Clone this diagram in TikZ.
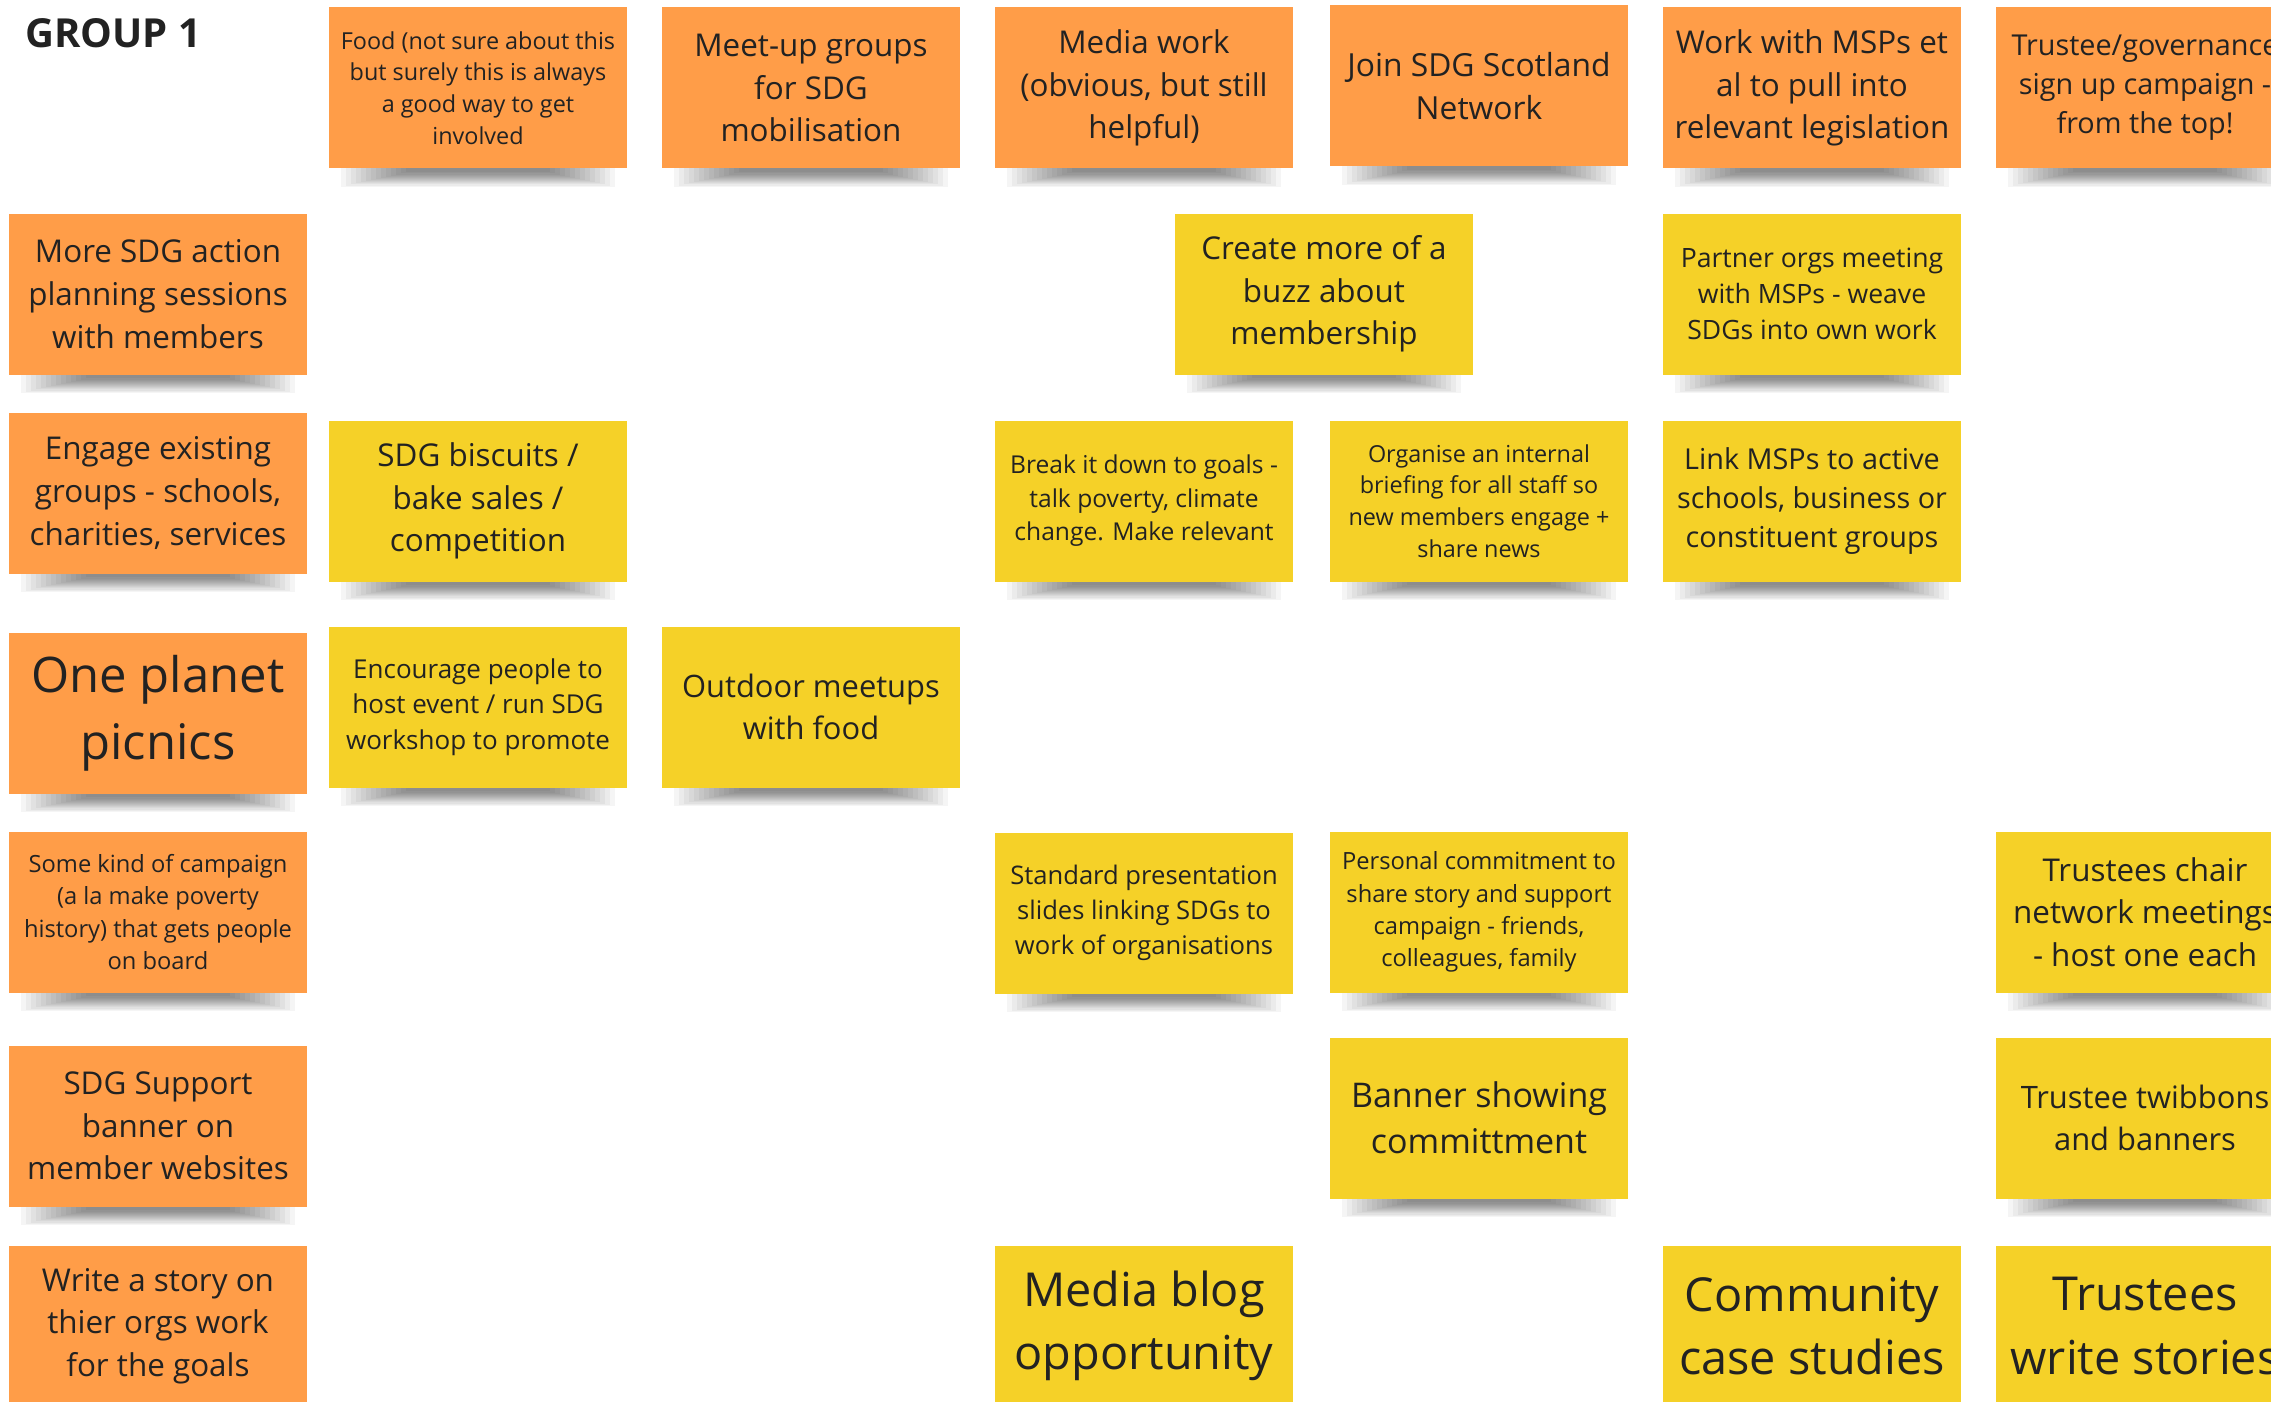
\documentclass[tikz,border=0pt]{standalone}
\usepackage{fontspec}
\setmainfont{Open Sans}
\usetikzlibrary{backgrounds}
\definecolor{noteorange}{HTML}{FF9D48}
\definecolor{noteyellow}{HTML}{F5D128}
\definecolor{ink}{HTML}{222222}
\begin{document}
\begin{tikzpicture}[x=1pt, y=-1pt,
        note/.style={rectangle, minimum width=298pt, minimum height=161pt, inner sep=0pt, align=center, text=ink},
        orangenote/.style={note, fill=noteorange},
        yellownote/.style={note, fill=noteyellow},
        fs/.style={font=\fontsize{#1}{#1}\linespread{1.36}\selectfont}]
        \useasboundingbox (0,0) rectangle (2271,1402);
        \clip (0,0) rectangle (2271,1402);
        \node [anchor=base west, inner sep=0pt, text=ink, font=\bfseries\fontsize{40}{40}\selectfont] (title) at (25,48) {GROUP 1};
        \node [orangenote, fs=23.4] (food) at (478,88) {Food (not sure about this\\but surely this is always\\a good way to get\\involved};
        \node [orangenote, fs=31.4] (meetup) at (811,88) {Meet-up groups\\for SDG\\mobilisation};
        \node [orangenote, fs=31.4] (mediawork) at (1144,88) {Media work\\(obvious, but still\\helpful)};
        \node [orangenote, fs=31.8] (join) at (1479,86) {Join SDG Scotland\\Network};
        \node [orangenote, fs=31.4] (msps) at (1812,88) {Work with MSPs et\\al to pull into\\relevant legislation};
        \node [orangenote, fs=28.8] (trusteegov) at (2145,88) {Trustee/governance\\sign up campaign -\\from the top!};
        \node [orangenote, fs=31.4] (sessions) at (158,294) {More SDG action\\planning sessions\\with members};
        \node [yellownote, fs=31.4] (buzz) at (1324,294) {Create more of a\\buzz about\\membership};
        \node [yellownote, fs=26.6] (partner) at (1812,294) {Partner orgs meeting\\with MSPs - weave\\SDGs into own work};
        \node [orangenote, fs=31.4] (engage) at (158,493) {Engage existing\\groups - schools,\\charities, services};
        \node [yellownote, fs=31.4] (biscuits) at (478,501) {SDG biscuits /\\bake sales /\\competition};
        \node [yellownote, fs=24.6] (breakdown) at (1144,501) {Break it down to goals -\\talk poverty, climate\\change. Make relevant};
        \node [yellownote, fs=23.4] (briefing) at (1479,501) {Organise an internal\\briefing for all staff so\\new members engage +\\share news};
        \node [yellownote, fs=28.8] (linkmsps) at (1812,501) {Link MSPs to active\\schools, business or\\constituent groups};
        \node [orangenote, fs=49] (picnics) at (158,713) {One planet\\picnics};
        \node [yellownote, fs=26] (encourage) at (478,707) {Encourage people to\\host event / run SDG\\workshop to promote};
        \node [yellownote, fs=30.9] (outdoor) at (811,707) {Outdoor meetups\\with food};
        \node [orangenote, fs=23.7] (campaign) at (158,912) {Some kind of campaign\\(a la make poverty\\history) that gets people\\on board};
        \node [yellownote, fs=25.6] (slides) at (1144,913) {Standard presentation\\slides linking SDGs to\\work of organisations};
        \node [yellownote, fs=23.7] (commitment) at (1479,912) {Personal commitment to\\share story and support\\campaign - friends,\\colleagues, family};
        \node [yellownote, fs=31.4] (chair) at (2145,912) {Trustees chair\\network meetings\\- host one each};
        \node [orangenote, fs=31.4] (banner) at (158,1126) {SDG Support\\banner on\\member websites};
        \node [yellownote, fs=34] (showing) at (1479,1118) {Banner showing\\committment};
        \node [yellownote, fs=30.9] (twibbons) at (2145,1118) {Trustee twibbons\\and banners};
        \node [orangenote, fs=31.4] (story) at (158,1326) {Write a story on\\thier orgs work\\for the goals};
        \node [yellownote, fs=46.8] (blog) at (1144,1326) {Media blog\\opportunity};
        \node [yellownote, fs=46.8] (casestudies) at (1812,1326) {Community\\case studies};
        \node [yellownote, fs=46.8] (stories) at (2145,1326) {Trustees\\write stories};
        \begin{scope}[on background layer]
            \fill[white] (0,0) rectangle (2271,1402);
            \foreach \n in {food,meetup,mediawork,join,msps,trusteegov,sessions,buzz,partner,engage,biscuits,breakdown,briefing,linkmsps,picnics,encourage,outdoor,campaign,slides,commitment,chair,banner,showing,twibbons,story,blog,casestudies,stories}
                \foreach \i in {0,...,13}
                    \fill[black, fill opacity=0.04] ([xshift={12pt+5pt*\i}, yshift=2pt]\n.south west) rectangle ([xshift={-12pt-5pt*\i}, yshift={-18pt+1.1pt*\i}]\n.south east);
        \end{scope}
\end{tikzpicture}
\end{document}
